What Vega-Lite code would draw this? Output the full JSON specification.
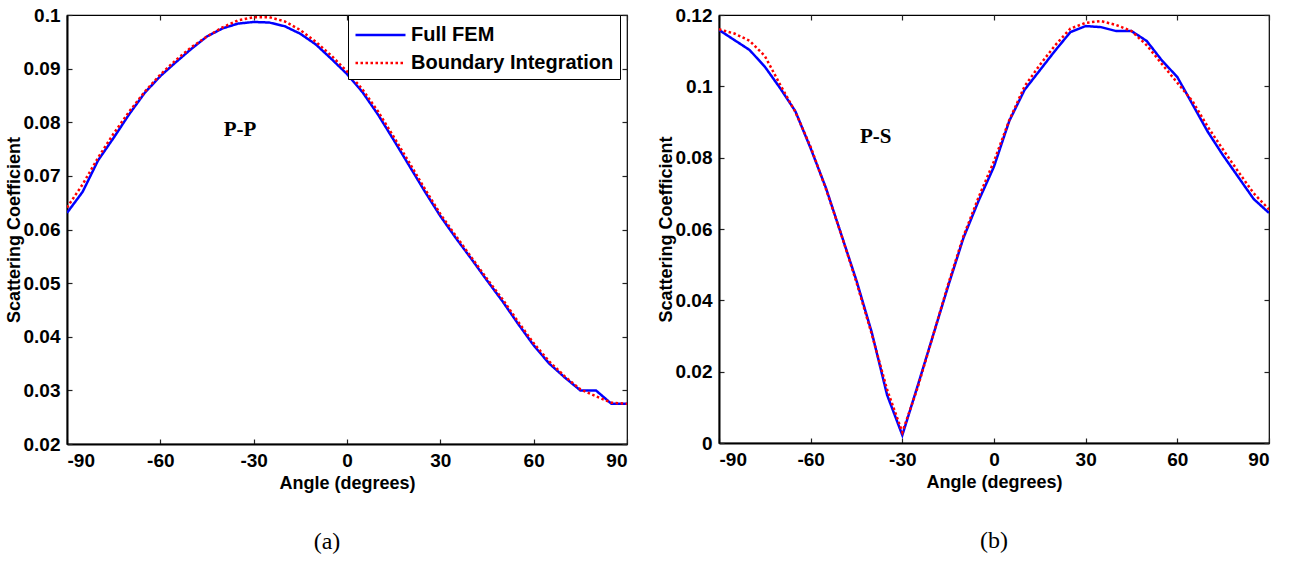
{
  "$schema": "https://vega.github.io/schema/vega-lite/v6.json",
  "background": "white",
  "padding": {"left": 4, "top": 5, "right": 5, "bottom": 5},
  "datasets": {
    "pp": [
      {"angle": -90, "series": "Full FEM", "value": 0.0631},
      {"angle": -85, "series": "Full FEM", "value": 0.0670},
      {"angle": -80, "series": "Full FEM", "value": 0.0729},
      {"angle": -75, "series": "Full FEM", "value": 0.0771},
      {"angle": -70, "series": "Full FEM", "value": 0.0815},
      {"angle": -65, "series": "Full FEM", "value": 0.0855},
      {"angle": -60, "series": "Full FEM", "value": 0.0886},
      {"angle": -55, "series": "Full FEM", "value": 0.0912},
      {"angle": -50, "series": "Full FEM", "value": 0.0937},
      {"angle": -45, "series": "Full FEM", "value": 0.0960},
      {"angle": -40, "series": "Full FEM", "value": 0.0975},
      {"angle": -35, "series": "Full FEM", "value": 0.0984},
      {"angle": -30, "series": "Full FEM", "value": 0.0987},
      {"angle": -25, "series": "Full FEM", "value": 0.0986},
      {"angle": -20, "series": "Full FEM", "value": 0.0979},
      {"angle": -15, "series": "Full FEM", "value": 0.0965},
      {"angle": -10, "series": "Full FEM", "value": 0.0945},
      {"angle": -5, "series": "Full FEM", "value": 0.0918},
      {"angle": 0, "series": "Full FEM", "value": 0.0890},
      {"angle": 5, "series": "Full FEM", "value": 0.0856},
      {"angle": 10, "series": "Full FEM", "value": 0.0814},
      {"angle": 15, "series": "Full FEM", "value": 0.0767},
      {"angle": 20, "series": "Full FEM", "value": 0.0719},
      {"angle": 25, "series": "Full FEM", "value": 0.0671},
      {"angle": 30, "series": "Full FEM", "value": 0.0625},
      {"angle": 35, "series": "Full FEM", "value": 0.0584},
      {"angle": 40, "series": "Full FEM", "value": 0.0545},
      {"angle": 45, "series": "Full FEM", "value": 0.0505},
      {"angle": 50, "series": "Full FEM", "value": 0.0466},
      {"angle": 55, "series": "Full FEM", "value": 0.0424},
      {"angle": 60, "series": "Full FEM", "value": 0.0384},
      {"angle": 65, "series": "Full FEM", "value": 0.0350},
      {"angle": 70, "series": "Full FEM", "value": 0.0324},
      {"angle": 75, "series": "Full FEM", "value": 0.0300},
      {"angle": 80, "series": "Full FEM", "value": 0.0300},
      {"angle": 85, "series": "Full FEM", "value": 0.0275},
      {"angle": 90, "series": "Full FEM", "value": 0.0275},
      {"angle": -90, "series": "Boundary Integration", "value": 0.0641},
      {"angle": -85, "series": "Boundary Integration", "value": 0.0684},
      {"angle": -80, "series": "Boundary Integration", "value": 0.0734},
      {"angle": -75, "series": "Boundary Integration", "value": 0.0779},
      {"angle": -70, "series": "Boundary Integration", "value": 0.0820},
      {"angle": -65, "series": "Boundary Integration", "value": 0.0857},
      {"angle": -60, "series": "Boundary Integration", "value": 0.0889},
      {"angle": -55, "series": "Boundary Integration", "value": 0.0916},
      {"angle": -50, "series": "Boundary Integration", "value": 0.0940},
      {"angle": -45, "series": "Boundary Integration", "value": 0.0960},
      {"angle": -40, "series": "Boundary Integration", "value": 0.0977},
      {"angle": -35, "series": "Boundary Integration", "value": 0.0990},
      {"angle": -30, "series": "Boundary Integration", "value": 0.0996},
      {"angle": -25, "series": "Boundary Integration", "value": 0.0996},
      {"angle": -20, "series": "Boundary Integration", "value": 0.0988},
      {"angle": -15, "series": "Boundary Integration", "value": 0.0972},
      {"angle": -10, "series": "Boundary Integration", "value": 0.0950},
      {"angle": -5, "series": "Boundary Integration", "value": 0.0924},
      {"angle": 0, "series": "Boundary Integration", "value": 0.0895},
      {"angle": 5, "series": "Boundary Integration", "value": 0.0861},
      {"angle": 10, "series": "Boundary Integration", "value": 0.0820},
      {"angle": 15, "series": "Boundary Integration", "value": 0.0773},
      {"angle": 20, "series": "Boundary Integration", "value": 0.0725},
      {"angle": 25, "series": "Boundary Integration", "value": 0.0676},
      {"angle": 30, "series": "Boundary Integration", "value": 0.0629},
      {"angle": 35, "series": "Boundary Integration", "value": 0.0588},
      {"angle": 40, "series": "Boundary Integration", "value": 0.0548},
      {"angle": 45, "series": "Boundary Integration", "value": 0.0508},
      {"angle": 50, "series": "Boundary Integration", "value": 0.0470},
      {"angle": 55, "series": "Boundary Integration", "value": 0.0428},
      {"angle": 60, "series": "Boundary Integration", "value": 0.0388},
      {"angle": 65, "series": "Boundary Integration", "value": 0.0354},
      {"angle": 70, "series": "Boundary Integration", "value": 0.0326},
      {"angle": 75, "series": "Boundary Integration", "value": 0.0302},
      {"angle": 80, "series": "Boundary Integration", "value": 0.0289},
      {"angle": 85, "series": "Boundary Integration", "value": 0.0277},
      {"angle": 90, "series": "Boundary Integration", "value": 0.0275}
    ],
    "ps": [
      {"angle": -90, "series": "Full FEM", "value": 0.1158},
      {"angle": -85, "series": "Full FEM", "value": 0.1130},
      {"angle": -80, "series": "Full FEM", "value": 0.1102},
      {"angle": -75, "series": "Full FEM", "value": 0.1055},
      {"angle": -70, "series": "Full FEM", "value": 0.0995},
      {"angle": -65, "series": "Full FEM", "value": 0.0930},
      {"angle": -60, "series": "Full FEM", "value": 0.0826},
      {"angle": -55, "series": "Full FEM", "value": 0.0715},
      {"angle": -50, "series": "Full FEM", "value": 0.0585},
      {"angle": -45, "series": "Full FEM", "value": 0.0455},
      {"angle": -40, "series": "Full FEM", "value": 0.0310},
      {"angle": -35, "series": "Full FEM", "value": 0.0135},
      {"angle": -30, "series": "Full FEM", "value": 0.0022},
      {"angle": -25, "series": "Full FEM", "value": 0.0160},
      {"angle": -20, "series": "Full FEM", "value": 0.0300},
      {"angle": -15, "series": "Full FEM", "value": 0.0440},
      {"angle": -10, "series": "Full FEM", "value": 0.0575},
      {"angle": -5, "series": "Full FEM", "value": 0.0680},
      {"angle": 0, "series": "Full FEM", "value": 0.0775},
      {"angle": 5, "series": "Full FEM", "value": 0.0903},
      {"angle": 10, "series": "Full FEM", "value": 0.0990},
      {"angle": 15, "series": "Full FEM", "value": 0.1045},
      {"angle": 20, "series": "Full FEM", "value": 0.1100},
      {"angle": 25, "series": "Full FEM", "value": 0.1152},
      {"angle": 30, "series": "Full FEM", "value": 0.1169},
      {"angle": 35, "series": "Full FEM", "value": 0.1166},
      {"angle": 40, "series": "Full FEM", "value": 0.1155},
      {"angle": 45, "series": "Full FEM", "value": 0.1155},
      {"angle": 50, "series": "Full FEM", "value": 0.1127},
      {"angle": 55, "series": "Full FEM", "value": 0.1072},
      {"angle": 60, "series": "Full FEM", "value": 0.1026},
      {"angle": 65, "series": "Full FEM", "value": 0.0949},
      {"angle": 70, "series": "Full FEM", "value": 0.0872},
      {"angle": 75, "series": "Full FEM", "value": 0.0806},
      {"angle": 80, "series": "Full FEM", "value": 0.0745},
      {"angle": 85, "series": "Full FEM", "value": 0.0684},
      {"angle": 90, "series": "Full FEM", "value": 0.0645},
      {"angle": -90, "series": "Boundary Integration", "value": 0.1160},
      {"angle": -85, "series": "Boundary Integration", "value": 0.1148},
      {"angle": -80, "series": "Boundary Integration", "value": 0.1128},
      {"angle": -75, "series": "Boundary Integration", "value": 0.1085},
      {"angle": -70, "series": "Boundary Integration", "value": 0.1005},
      {"angle": -65, "series": "Boundary Integration", "value": 0.0928},
      {"angle": -60, "series": "Boundary Integration", "value": 0.0830},
      {"angle": -55, "series": "Boundary Integration", "value": 0.0712},
      {"angle": -50, "series": "Boundary Integration", "value": 0.0585},
      {"angle": -45, "series": "Boundary Integration", "value": 0.0450},
      {"angle": -40, "series": "Boundary Integration", "value": 0.0305},
      {"angle": -35, "series": "Boundary Integration", "value": 0.0150},
      {"angle": -30, "series": "Boundary Integration", "value": 0.0030},
      {"angle": -25, "series": "Boundary Integration", "value": 0.0155},
      {"angle": -20, "series": "Boundary Integration", "value": 0.0300},
      {"angle": -15, "series": "Boundary Integration", "value": 0.0445},
      {"angle": -10, "series": "Boundary Integration", "value": 0.0580},
      {"angle": -5, "series": "Boundary Integration", "value": 0.0690},
      {"angle": 0, "series": "Boundary Integration", "value": 0.0790},
      {"angle": 5, "series": "Boundary Integration", "value": 0.0905},
      {"angle": 10, "series": "Boundary Integration", "value": 0.1000},
      {"angle": 15, "series": "Boundary Integration", "value": 0.1060},
      {"angle": 20, "series": "Boundary Integration", "value": 0.1115},
      {"angle": 25, "series": "Boundary Integration", "value": 0.1162},
      {"angle": 30, "series": "Boundary Integration", "value": 0.1178},
      {"angle": 35, "series": "Boundary Integration", "value": 0.1183},
      {"angle": 40, "series": "Boundary Integration", "value": 0.1172},
      {"angle": 45, "series": "Boundary Integration", "value": 0.1155},
      {"angle": 50, "series": "Boundary Integration", "value": 0.1115},
      {"angle": 55, "series": "Boundary Integration", "value": 0.1062},
      {"angle": 60, "series": "Boundary Integration", "value": 0.1010},
      {"angle": 65, "series": "Boundary Integration", "value": 0.0958},
      {"angle": 70, "series": "Boundary Integration", "value": 0.0886},
      {"angle": 75, "series": "Boundary Integration", "value": 0.0822},
      {"angle": 80, "series": "Boundary Integration", "value": 0.0760},
      {"angle": 85, "series": "Boundary Integration", "value": 0.0700},
      {"angle": 90, "series": "Boundary Integration", "value": 0.0655}
    ],
    "ppLabel": [{"angle": -34.4, "value": 0.0785, "label": "P-P"}],
    "psLabel": [{"angle": -38.7, "value": 0.0858, "label": "P-S"}]
  },
  "config": {
    "view": {"stroke": "black", "strokeWidth": 1.2},
    "axis": {
      "labelFont": "Liberation Sans", "labelFontWeight": "bold", "labelFontSize": 19, "labelColor": "black",
      "titleFont": "Liberation Sans", "titleFontWeight": "bold", "titleFontSize": 18, "titleColor": "black",
      "grid": false, "domainColor": "black", "domainWidth": 2, "tickColor": "#222", "tickSize": -5, "tickWidth": 1.2,
      "labelPadding": 12
    },
    "legend": {
      "title": null, "strokeColor": "black", "fillColor": "white", "padding": 6,
      "symbolType": "M-1,0H3", "symbolSize": 625, "symbolStrokeWidth": 2.5, "labelOffset": 29, "labelLimit": 400,
      "labelFont": "Liberation Sans", "labelFontWeight": "bold", "labelFontSize": 20, "labelColor": "black", "rowPadding": 4
    },
    "title": {"font": "Liberation Serif", "fontSize": 24, "fontWeight": "normal", "color": "black"}
  },
  "spacing": 27,
  "hconcat": [
    {
      "width": 560, "height": 429,
      "title": {"text": "(a)", "orient": "bottom", "offset": 38, "dx": -20},
      "layer": [
        {
          "layer": [
            {
              "data": {"name": "pp"},
              "mark": {"type": "line", "strokeWidth": 2.5, "clip": true},
              "encoding": {
                "x": {"field": "angle", "type": "quantitative", "scale": {"domain": [-90, 90], "nice": false}, "axis": {"values": [-90, -60, -30, 0, 30, 60, 90], "labelExpr": "'' + datum.value", "title": "Angle (degrees)", "titlePadding": 4}},
                "y": {"field": "value", "type": "quantitative", "scale": {"domain": [0.02, 0.1], "nice": false, "zero": false}, "axis": {"values": [0.02, 0.03, 0.04, 0.05, 0.06, 0.07, 0.08, 0.09, 0.1], "format": "~g", "title": "Scattering Coefficient", "titlePadding": 0}},
                "color": {"field": "series", "type": "nominal", "scale": {"domain": ["Full FEM", "Boundary Integration"], "range": ["#0000ff", "#ff0000"]},
                  "legend": {"orient": "none", "legendX": 281, "legendY": 0}},
                "strokeDash": {"field": "series", "type": "nominal", "scale": {"domain": ["Full FEM", "Boundary Integration"], "range": [[1, 0], [2.5, 2.5]]},
                  "legend": {"orient": "none", "legendX": 281, "legendY": 0}}
              }
            },
            {
              "data": {"name": "ppLabel"},
              "mark": {"type": "text", "font": "Liberation Serif", "fontWeight": "bold", "fontSize": 21, "color": "black"},
              "encoding": {
                "x": {"field": "angle", "type": "quantitative"},
                "y": {"field": "value", "type": "quantitative"},
                "text": {"field": "label"}
              }
            }
          ]
        },
        {
          "data": {"name": "pp"},
          "mark": {"type": "line", "opacity": 0},
          "encoding": {
            "x": {"field": "angle", "type": "quantitative", "scale": {"domain": [-90, 90], "nice": false}, "axis": {"orient": "top", "values": [-90, -60, -30, 0, 30, 60, 90], "labels": false, "title": null, "domain": false}},
            "y": {"field": "value", "type": "quantitative", "scale": {"domain": [0.02, 0.1], "nice": false, "zero": false}, "axis": {"orient": "right", "values": [0.02, 0.03, 0.04, 0.05, 0.06, 0.07, 0.08, 0.09, 0.1], "labels": false, "title": null, "domain": false}}
          }
        }
      ],
      "resolve": {"scale": {"x": "independent", "y": "independent"}}
    },
    {
      "width": 550, "height": 428,
      "title": {"text": "(b)", "orient": "bottom", "offset": 38},
      "layer": [
        {
          "layer": [
            {
              "data": {"name": "ps"},
              "mark": {"type": "line", "strokeWidth": 2.5, "clip": true},
              "encoding": {
                "x": {"field": "angle", "type": "quantitative", "scale": {"domain": [-90, 90], "nice": false}, "axis": {"values": [-90, -60, -30, 0, 30, 60, 90], "labelExpr": "'' + datum.value", "title": "Angle (degrees)", "titlePadding": 4}},
                "y": {"field": "value", "type": "quantitative", "scale": {"domain": [0, 0.12], "nice": false}, "axis": {"values": [0, 0.02, 0.04, 0.06, 0.08, 0.1, 0.12], "format": "~g", "title": "Scattering Coefficient", "titlePadding": 0}},
                "color": {"field": "series", "type": "nominal", "scale": {"domain": ["Full FEM", "Boundary Integration"], "range": ["#0000ff", "#ff0000"]},
                  "legend": {"orient": "none", "legendX": 53, "legendY": 0}},
                "strokeDash": {"field": "series", "type": "nominal", "scale": {"domain": ["Full FEM", "Boundary Integration"], "range": [[1, 0], [2.5, 2.5]]},
                  "legend": {"orient": "none", "legendX": 53, "legendY": 0}}
              }
            },
            {
              "data": {"name": "psLabel"},
              "mark": {"type": "text", "font": "Liberation Serif", "fontWeight": "bold", "fontSize": 21, "color": "black"},
              "encoding": {
                "x": {"field": "angle", "type": "quantitative"},
                "y": {"field": "value", "type": "quantitative"},
                "text": {"field": "label"}
              }
            }
          ]
        },
        {
          "data": {"name": "ps"},
          "mark": {"type": "line", "opacity": 0},
          "encoding": {
            "x": {"field": "angle", "type": "quantitative", "scale": {"domain": [-90, 90], "nice": false}, "axis": {"orient": "top", "values": [-90, -60, -30, 0, 30, 60, 90], "labels": false, "title": null, "domain": false}},
            "y": {"field": "value", "type": "quantitative", "scale": {"domain": [0, 0.12], "nice": false}, "axis": {"orient": "right", "values": [0, 0.02, 0.04, 0.06, 0.08, 0.1, 0.12], "labels": false, "title": null, "domain": false}}
          }
        }
      ],
      "resolve": {"scale": {"x": "independent", "y": "independent"}}
    }
  ]
}
